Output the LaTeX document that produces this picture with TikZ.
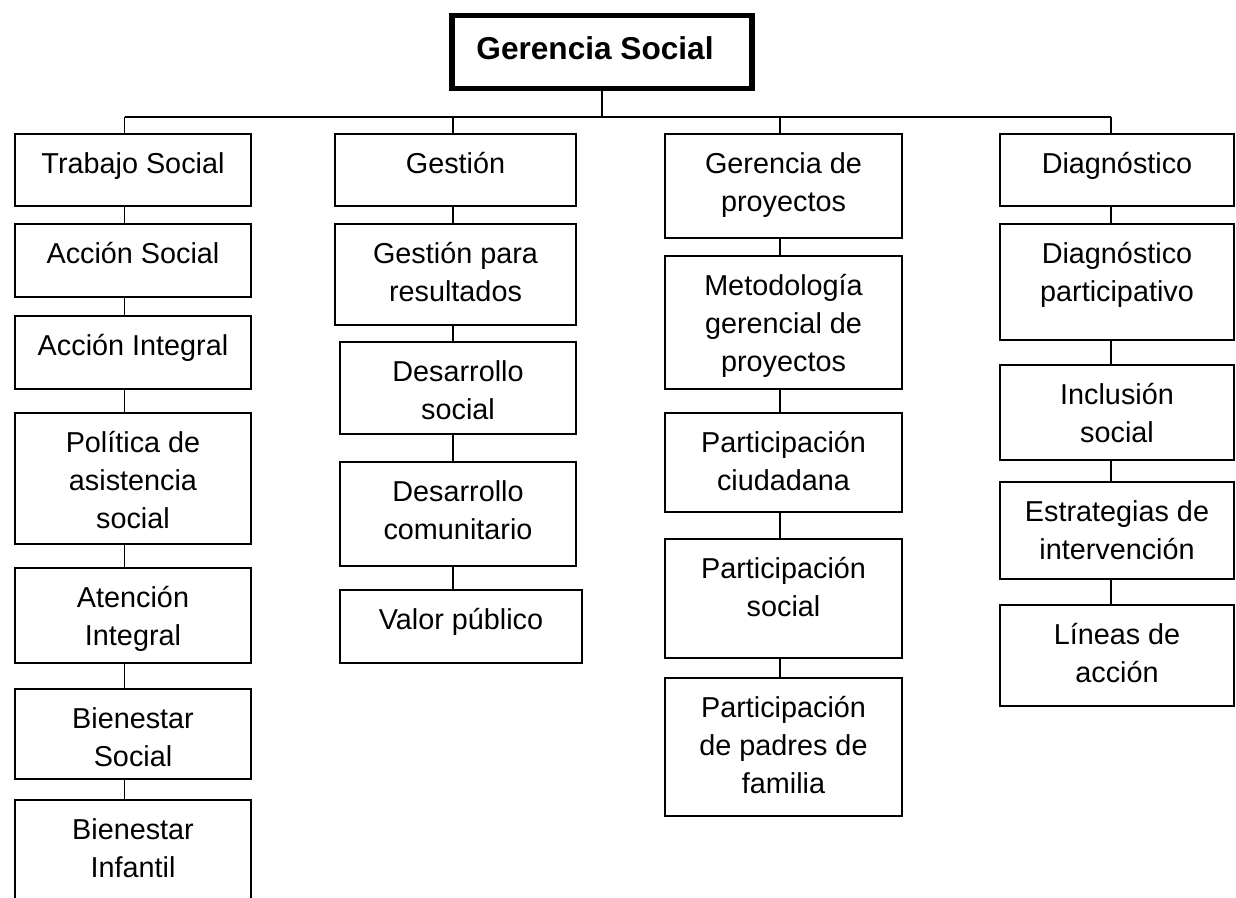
\documentclass[tikz,border=0pt]{standalone}
\usepackage{fontspec}
\setmainfont{Liberation Sans}
\tikzset{
  box/.style = {draw, line width=1pt, inner sep=0pt, outer sep=0pt, anchor=north west},
  txt/.style = {font=\fontsize{14.4}{19}\selectfont, align=center, inner sep=0pt, anchor=north},
  link/.style = {line width=0.8pt}
}
% box from (x1,y1) to (x2,y2), text at the top
\newcommand{\caja}[6]{%
  \node[box, minimum width={(#4-#2)*0.5pt}, minimum height={(#5-#3)*0.5pt}] (#1) at (#2,#3) {};
  \node[txt] at ([yshift=-9pt]#1.north) {#6};
}

\begin{document}
\begin{tikzpicture}[x=0.5pt,y=-0.5pt]
  \useasboundingbox (0,0) rectangle (1236,898);
  % title
  \node[box, line width=2.7pt, minimum width=150pt, minimum height=36.5pt] (gs) at (452,15.5) {};
  \node[font=\bfseries\fontsize{15.8}{19}\selectfont, anchor=base, inner sep=0pt] (gst) at (595,60) {Gerencia Social};
  % branches
  \coordinate (c1) at (124.6,117);
  \coordinate (c2) at (453,117);
  \coordinate (c3) at (780,117);
  \coordinate (c4) at (1111,117);
  \draw[link] (gs.south) -- (gs.south |- c1);
  \draw[link] (c1) -- (c4);
  % column 1
  \foreach \n/\ya/\yb/\t in {t1/134/206/{Trabajo Social}, t2/224/297/{Acción Social},
      t3/316/389/{Acción Integral}, t4/413/544/{Política de\\asistencia\\social},
      t5/568/663/{Atención\\Integral}, t6/689/779/{Bienestar\\Social},
      t7/800/912/{Bienestar\\Infantil}}
    \caja{\n}{15}{\ya}{251}{\yb}{\t};
  % column 2
  \caja{g1}{335}{134}{576}{206}{Gestión}
  \caja{g2}{335}{224}{576}{325}{Gestión para\\resultados}
  \caja{g3}{340}{342}{576}{434}{Desarrollo\\social}
  \caja{g4}{340}{462}{576}{566}{Desarrollo\\comunitario}
  \caja{g5}{340}{590}{582}{663}{Valor público}
  % column 3
  \foreach \n/\ya/\yb/\t in {p1/134/238/{Gerencia de\\proyectos},
      p2/256/389/{Metodología\\gerencial de\\proyectos}, p3/413/512/{Participación\\ciudadana},
      p4/539/658/{Participación\\social}, p5/678/816/{Participación\\de padres de\\familia}}
    \caja{\n}{665}{\ya}{902}{\yb}{\t};
  % column 4
  \foreach \n/\ya/\yb/\t in {d1/134/206/{Diagnóstico}, d2/224/340/{Diagnóstico\\participativo},
      d3/365/460/{Inclusión\\social}, d4/482/579/{Estrategias de\\intervención},
      d5/605/706/{Líneas de\\acción}}
    \caja{\n}{1000}{\ya}{1234}{\yb}{\t};
  % connectors
  \foreach \c/\a/\b in {c1/c1/t1, c1/t1/t2, c1/t2/t3, c1/t3/t4, c1/t4/t5, c1/t5/t6, c1/t6/t7,
      c2/c2/g1, c2/g1/g2, c2/g2/g3, c2/g3/g4, c2/g4/g5,
      c3/c3/p1, c3/p1/p2, c3/p2/p3, c3/p3/p4, c3/p4/p5,
      c4/c4/d1, c4/d1/d2, c4/d2/d3, c4/d3/d4, c4/d4/d5}
    \draw[link] (\c |- \a.south) -- (\c |- \b.north);
\end{tikzpicture}
\end{document}
